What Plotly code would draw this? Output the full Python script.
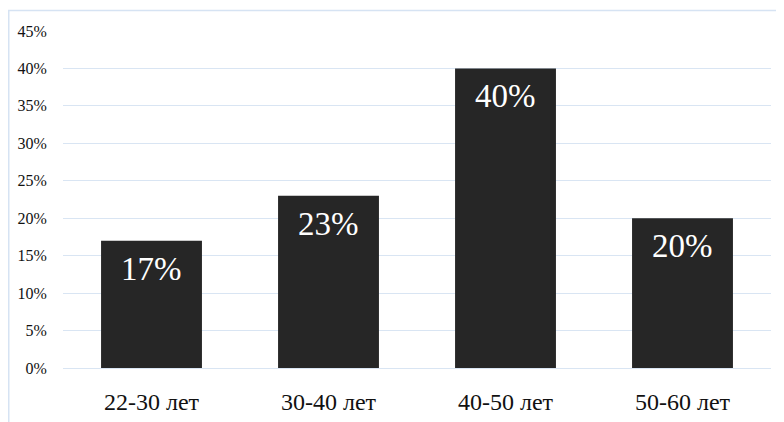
import plotly.graph_objects as go

categories = ["22-30 лет", "30-40 лет", "40-50 лет", "50-60 лет"]
values = [0.17, 0.23, 0.40, 0.20]
labels = ["17%", "23%", "40%", "20%"]
y_ticks = [0, 0.05, 0.10, 0.15, 0.20, 0.25, 0.30, 0.35, 0.40, 0.45]
y_tick_text = ["0%", "5%", "10%", "15%", "20%", "25%", "30%", "35%", "40%", "45%"]

serif = "Liberation Serif"
grid = "#d9e5f3"

fig = go.Figure()
fig.add_trace(go.Bar(
    x=categories, y=values, marker=dict(color="#262626", line=dict(width=0)),
    width=0.57, hoverinfo="skip",
))
for c, v, t in zip(categories, values, labels):
    fig.add_annotation(x=c, y=v, text=t, showarrow=False, yanchor="top", yshift=-8,
                       font=dict(family=serif, size=33, color="white"))

fig.add_shape(type="rect", xref="paper", yref="paper",
              x0=(0.75 - 55) / 708, x1=1.2, y0=-0.5, y1=1 + (23 - 2.5) / 337,
              line=dict(color="#d6e3f3", width=1.5), layer="below")

fig.update_layout(
    width=776, height=414,
    margin=dict(l=55, r=13, t=23, b=54),
    paper_bgcolor="white", plot_bgcolor="white",
    showlegend=False, bargap=0.43,
    xaxis=dict(showgrid=False, showline=False, zeroline=False, automargin=False,
               ticks="outside", ticklen=12, tickcolor="rgba(0,0,0,0)",
               tickfont=dict(family=serif, size=24, color="#111")),
    yaxis=dict(range=[0, 0.45], tickvals=y_ticks, ticktext=y_tick_text, automargin=False,
               showgrid=True, gridcolor=grid, gridwidth=1,
               zeroline=True, zerolinecolor=grid, zerolinewidth=1,
               showline=False, ticks="outside", ticklen=12, tickcolor="rgba(0,0,0,0)",
               tickfont=dict(family=serif, size=16, color="#111")),
)

fig.write_html("out.html")
